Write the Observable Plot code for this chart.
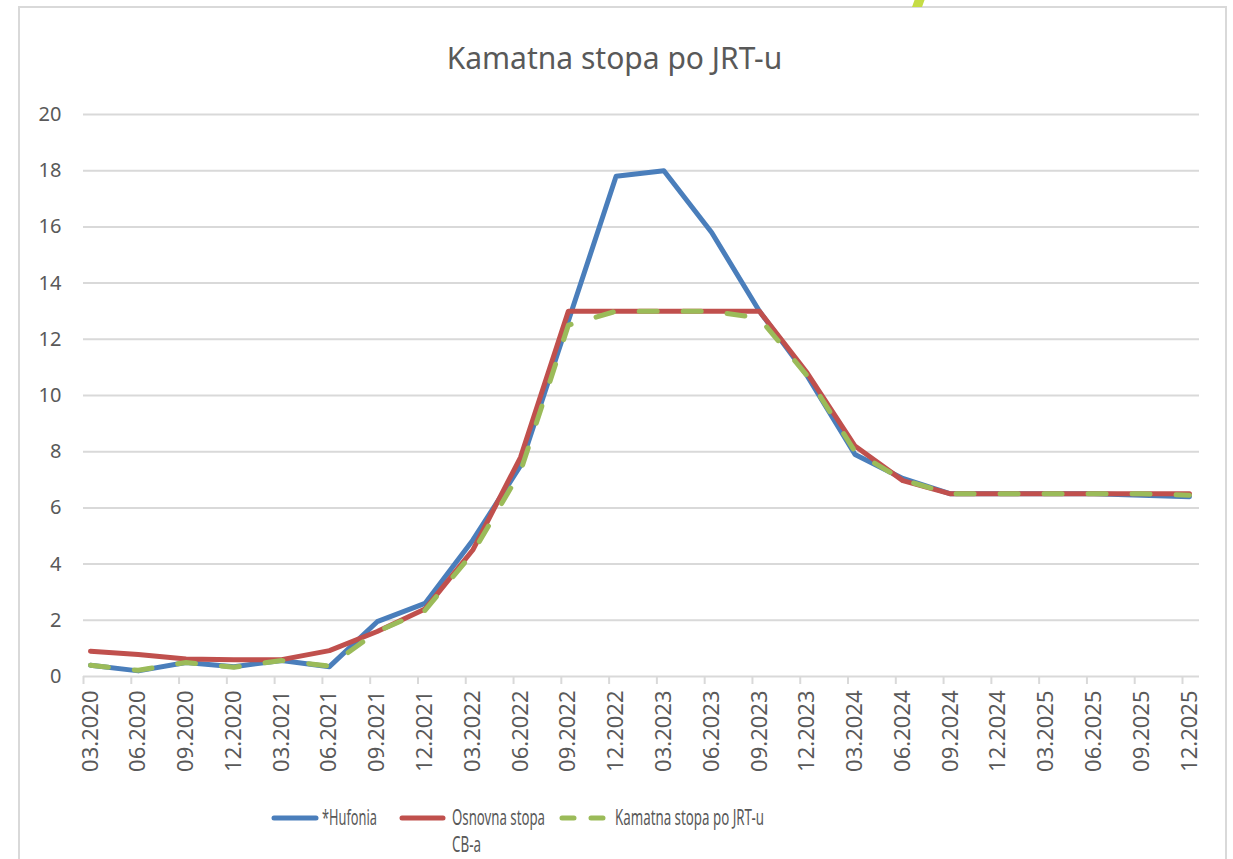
<!DOCTYPE html>
<html>
<head>
<meta charset="utf-8">
<script src="https://cdn.jsdelivr.net/npm/d3@7"></script>
<script src="https://cdn.jsdelivr.net/npm/@observablehq/plot@0.6"></script>
<style>
  html, body { margin: 0; padding: 0; background: #ffffff; width: 1233px; height: 859px; overflow: hidden; }
  body { position: relative; font-family: "Noto Sans", "Open Sans", sans-serif; }
  #frame { position: absolute; left: 18px; top: 6px; width: 1209px; height: 900px; border: 2px solid #d9d9d9; box-sizing: border-box; }
  #mark { position: absolute; left: 914px; top: -4px; width: 10px; height: 11px; background: #c5dc45; transform: skewX(-20deg); }
  #title { position: absolute; left: 0; width: 1229px; top: 38px; text-align: center; font-size: 30px; color: #595959; line-height: 40px; }
  #chart { position: absolute; left: 0; top: 0; }
  #legend { position: absolute; left: 0; top: 780px; }
</style>
</head>
<body>
<div id="frame"></div>
<div id="mark"></div>
<div id="title">Kamatna stopa po JRT-u</div>
<div id="chart"></div>
<svg id="legend" width="1233" height="79"></svg>
<script>
const categories = ["03.2020","06.2020","09.2020","12.2020","03.2021","06.2021","09.2021","12.2021","03.2022","06.2022","09.2022","12.2022","03.2023","06.2023","09.2023","12.2023","03.2024","06.2024","09.2024","12.2024","03.2025","06.2025","09.2025","12.2025"];
const hufonia = [0.4,0.2,0.5,0.35,0.57,0.35,1.95,2.6,4.85,7.5,12.65,17.8,18.0,15.8,13.0,10.7,7.9,7.05,6.5,6.5,6.5,6.5,6.45,6.4];
const osnovna = [0.9,0.78,0.62,0.6,0.6,0.92,1.6,2.4,4.5,7.8,13,13,13,13,13,10.8,8.2,6.97,6.5,6.5,6.5,6.5,6.5,6.5];
const jrt = [0.4,0.22,0.5,0.33,0.57,0.37,1.6,2.35,4.4,7.3,12.5,13,13,13,12.75,10.7,8.0,7.0,6.5,6.5,6.5,6.5,6.5,6.45];
const seriesNames = ["*Hufonia", "Osnovna stopa CB-a", "Kamatna stopa po JRT-u"];
const seriesColors = ["#4a7ebb", "#c0504d", "#9bbb59"];
const yTicks = [0,2,4,6,8,10,12,14,16,18,20];

const toRows = (vals) => categories.map((c, i) => ({cat: c, v: vals[i]}));

const textColor = "#595959";
const gridColor = "#d9d9d9";

const plot = Plot.plot({
  width: 1233,
  height: 790,
  marginLeft: 83,
  marginRight: 34,
  marginTop: 114,
  marginBottom: 114,
  style: {background: "transparent", fontFamily: "'Noto Sans', 'Open Sans', sans-serif", color: textColor},
  x: {type: "point", domain: categories, range: [90, 1189], padding: 0, round: false},
  y: {domain: [0, 20], range: [676, 114]},
  marks: [
    Plot.ruleY(yTicks, {stroke: gridColor, strokeWidth: 2}),
    Plot.axisY({ticks: yTicks, tickSize: 0, tickPadding: 22, fontSize: 20, fill: textColor, label: null}),
    Plot.axisX({tickSize: 8, tickFormat: () => "", stroke: gridColor, strokeWidth: 2, strokeOpacity: 1, dx: -7, label: null}),
    Plot.axisX({tickSize: 0, tickPadding: 14, tickRotate: -90, fontSize: 22, fill: textColor, label: null}),
    Plot.line(toRows(hufonia), {x: "cat", y: "v", stroke: seriesColors[0], strokeWidth: 5, strokeLinejoin: "round", strokeLinecap: "round"}),
    Plot.line(toRows(osnovna), {x: "cat", y: "v", stroke: seriesColors[1], strokeWidth: 5, strokeLinejoin: "round", strokeLinecap: "round"}),
    Plot.line(toRows(jrt), {x: "cat", y: "v", stroke: seriesColors[2], strokeWidth: 5, strokeLinejoin: "round", strokeLinecap: "round", strokeDasharray: "18,26"})
  ]
});
document.getElementById("chart").appendChild(plot);

// Legend
const lg = d3.select("#legend");
const items = [
  {x1: 274, x2: 316, tx: 322, lines: ["*Hufonia"], lens: [55], dash: null},
  {x1: 402, x2: 443, tx: 452, lines: ["Osnovna stopa", "CB-a"], lens: [93, 29], dash: null},
  {x1: 562, x2: 606, tx: 615, lines: ["Kamatna stopa po JRT-u"], lens: [149], dash: "12,17"}
];
items.forEach((it, i) => {
  lg.append("line").attr("x1", it.x1).attr("x2", it.x2).attr("y1", 38).attr("y2", 38)
    .attr("stroke", seriesColors[i]).attr("stroke-width", 5).attr("stroke-linecap", "round")
    .attr("stroke-dasharray", it.dash);
  it.lines.forEach((t, j) => {
    lg.append("text").attr("x", it.tx).attr("y", 45 + j * 27)
      .attr("font-size", 21).attr("fill", textColor)
      .attr("font-family", "'Noto Sans', 'Open Sans', sans-serif")
      .attr("textLength", it.lens[j]).attr("lengthAdjust", "spacingAndGlyphs")
      .text(t);
  });
});
</script>
</body>
</html>
